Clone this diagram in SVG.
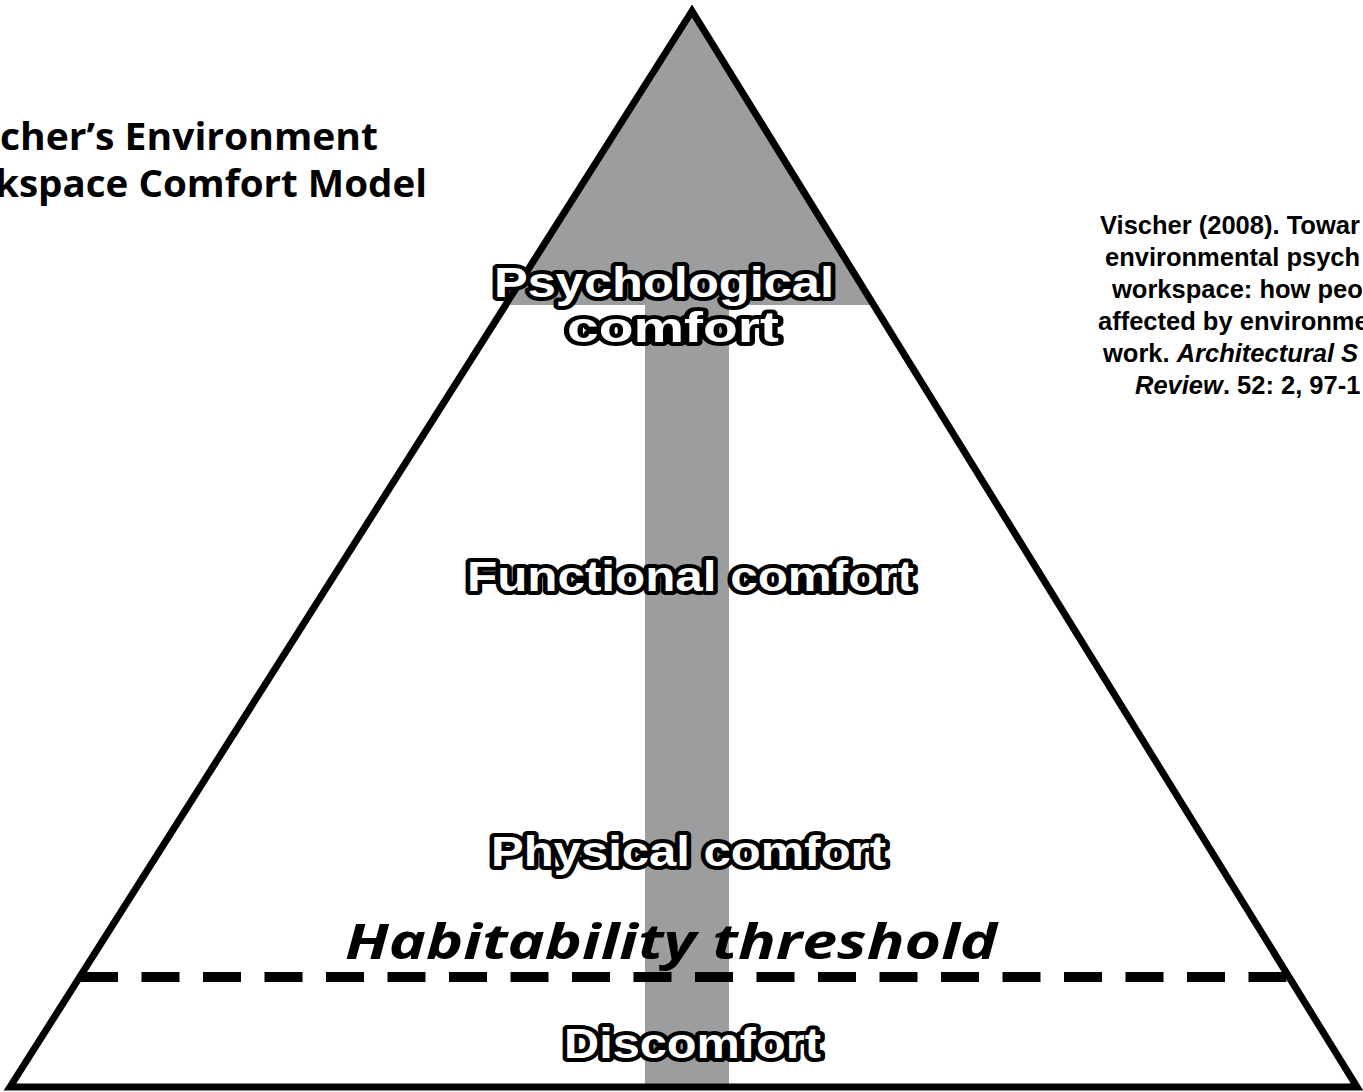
<svg xmlns="http://www.w3.org/2000/svg" width="1363" height="1092" viewBox="0 0 1363 1092">
  <style>
    .title { font-family: "Open Sans", "Liberation Sans", sans-serif; font-weight: 700; font-size: 38px; fill: #000; }
    .cite { font-family: "Liberation Sans", Arial, sans-serif; font-weight: 700; font-size: 25.5px; fill: #000; }
    .lbl { font-family: "Liberation Sans", Arial, sans-serif; font-weight: 700; font-size: 42px; fill: #fff; stroke: #000; stroke-width: 8; stroke-linejoin: round; paint-order: stroke; }
    .thr { font-family: "Open Sans", "Liberation Sans", sans-serif; font-weight: 700; font-style: italic; font-size: 48px; fill: #000; }
    .gray { fill: #9c9d9f; }
  </style>
  <rect width="1363" height="1092" fill="#fff"/>

  <g id="pyramid">
    <polygon class="gray" points="692,12 510,305 875,305"/>
    <rect class="gray" x="645" y="300" width="84" height="786"/>
    <polygon points="692,11 10,1087 1357,1087" fill="none" stroke="#000" stroke-width="7" stroke-linejoin="miter"/>
  </g>

  <g id="connectors">
    <line id="threshold-line" x1="80" y1="977" x2="1292" y2="977" stroke="#000" stroke-width="10" stroke-dasharray="38 23.5"/>
  </g>

  <g id="title">
    <text class="title" x="0" y="150" textLength="378" lengthAdjust="spacingAndGlyphs">cher’s Environment</text>
    <text class="title" x="-5" y="197" textLength="432" lengthAdjust="spacingAndGlyphs">kspace Comfort Model</text>
  </g>

  <g id="citation">
    <text class="cite" x="1100" y="234">Vischer (2008). Towar</text>
    <text class="cite" x="1105" y="266">environmental psych</text>
    <text class="cite" x="1112" y="298">workspace: how peo</text>
    <text class="cite" x="1098" y="330">affected by environme</text>
    <text class="cite" x="1103" y="362">work. <tspan font-style="italic">Architectural S</tspan></text>
    <text class="cite" x="1135" y="394"><tspan font-style="italic">Review</tspan>. 52: 2, 97-1</text>
  </g>

  <g id="psychological-comfort">
    <text class="lbl" x="494" y="297" textLength="340" lengthAdjust="spacingAndGlyphs">Psychological</text>
    <text class="lbl" x="567" y="342" textLength="212" lengthAdjust="spacingAndGlyphs">comfort</text>
  </g>

  <g id="functional-comfort">
    <text class="lbl" x="467" y="591" textLength="447" lengthAdjust="spacingAndGlyphs">Functional comfort</text>
  </g>

  <g id="physical-comfort">
    <text class="lbl" x="491" y="866" textLength="395" lengthAdjust="spacingAndGlyphs">Physical comfort</text>
  </g>

  <g id="habitability-threshold">
    <text class="thr" x="345" y="959" textLength="652" lengthAdjust="spacingAndGlyphs">Habitability threshold</text>
  </g>

  <g id="discomfort">
    <text class="lbl" x="564" y="1058" textLength="257" lengthAdjust="spacingAndGlyphs">Discomfort</text>
  </g>
</svg>
